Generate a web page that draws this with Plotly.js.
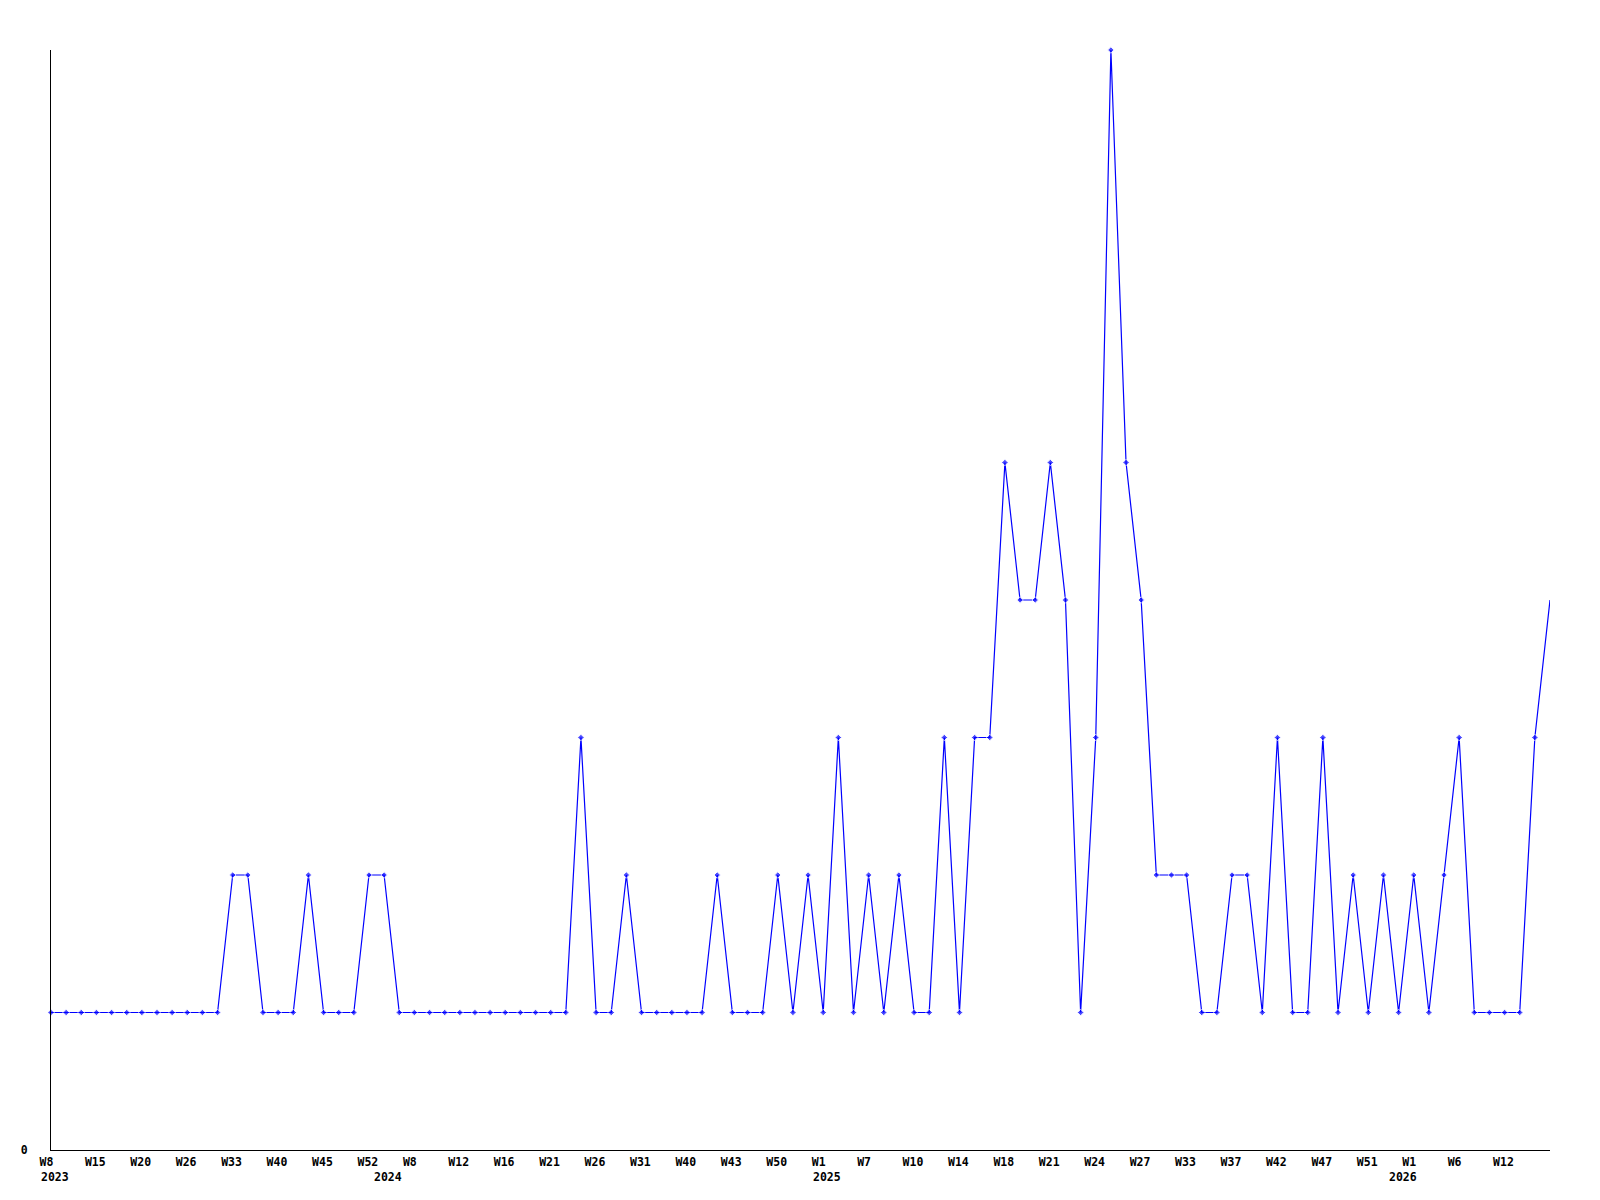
<!DOCTYPE html>
<html>
<head>
<meta charset="utf-8">
<script src="https://cdn.plot.ly/plotly-3.0.1.min.js"></script>
<style>html,body{margin:0;padding:0;background:#fff;}#chart{width:1600px;height:1200px;}</style>
</head>
<body>
<div id="chart"></div>
<script>
// Values per point (equally spaced samples)
var values = [
  1,1,1,1,1,1,1,1,1,1,1,1,
  2,2,1,1,1,2,1,1,1,2,2,
  1,1,1,1,1,1,1,1,1,1,1,1,
  3,1,1,2,1,1,1,1,1,2,1,1,1,2,1,2,1,3,1,2,1,2,1,1,3,1,3,3,
  5,4,4,5,4,1,3,8,5,4,2,2,2,1,1,2,2,1,3,1,1,3,1,2,1,2,1,2,1,2,3,1,1,1,1,3,4
];
// Tick labels, shown at every third point starting at the first
var tickLabels = ["W8","W15","W20","W26","W33","W40","W45","W52","W8","W12","W16","W21",
  "W26","W31","W40","W43","W50","W1","W7","W10","W14","W18","W21","W24","W27","W33",
  "W37","W42","W47","W51","W1","W6","W12"];
var tickPointIndex = [0,3,6,9,12,15,18,21,24,27,30,33,36,39,42,45,48,51,54,57,60,63,66,69,72,75,78,81,84,87,90,93,96];
// Year labels and the point where each year begins
var yearLabels = ["2023","2024","2025","2026"];
var yearPointIndex = [0,22,51,89];

var xs = values.map(function(v,i){return i;});
var sizes = values.map(function(v,i){return i === values.length-1 ? 0 : 5;});

var fontSpec = {family:"DejaVu Sans Mono", size:11.5, color:"#000", weight:"bold"};

var trace = {
  x: xs, y: values, type:"scatter", mode:"lines+markers",
  line:{color:"#0000ff", width:1.2},
  marker:{color:"#0000ff", symbol:"diamond", size:sizes},
  cliponaxis:false, hoverinfo:"none"
};

var annotations = yearLabels.map(function(t,k){
  return {x: yearPointIndex[k], xref:"x", y:0, yref:"paper", text:t, showarrow:false,
          xanchor:"left", yanchor:"top", xshift:-12, yshift:-18, font:fontSpec};
});

var layout = {
  width:1600, height:1200,
  margin:{l:51, r:50, t:50, b:50},
  paper_bgcolor:"#fff", plot_bgcolor:"#fff",
  showlegend:false,
  xaxis:{range:[0, values.length-1], showgrid:false, zeroline:false, showline:true,
    linecolor:"#000", linewidth:1, tickmode:"array", tickvals:tickPointIndex, ticktext:tickLabels,
    ticks:"", ticklabelposition:"outside right", ticklabelshift:-12, ticklabelstandoff:1, tickfont:fontSpec},
  yaxis:{range:[0,8], showgrid:false, zeroline:false, showline:true, linecolor:"#000", linewidth:1,
    tickmode:"array", tickvals:[0], ticktext:["0"], ticks:"", ticklabelstandoff:20, tickfont:fontSpec},
  annotations: annotations
};
Plotly.newPlot("chart", [trace], layout, {staticPlot:true});
</script>
</body>
</html>
